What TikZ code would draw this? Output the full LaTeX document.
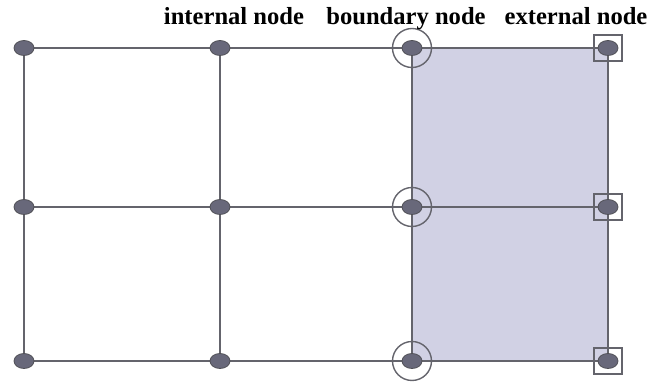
\documentclass[tikz,border=0pt]{standalone}
\usepackage{fontspec}
\setmainfont{Liberation Serif}
\usetikzlibrary{shapes.geometric,backgrounds}
\definecolor{gridline}{RGB}{100,100,108}
\definecolor{dotfill}{RGB}{104,104,122}
\definecolor{cellfill}{RGB}{209,209,228}
\tikzset{
  dot/.style={ellipse, minimum width=10pt, minimum height=7.5pt, inner sep=0pt, fill=dotfill, draw=gridline!80!black, line width=0.4pt},
  ring/.style={circle, minimum size=19.5pt, inner sep=0pt, draw=gridline, line width=0.7pt},
  sqbox/.style={rectangle, minimum width=14pt, minimum height=13pt, inner sep=0pt, draw=gridline, line width=0.7pt},
  edge/.style={draw=gridline, line width=1pt},
  lbl/.style={anchor=base, font=\fontsize{12.3}{14}\selectfont\bfseries, inner sep=0pt}
}
\begin{document}
\begin{tikzpicture}[x=0.5pt,y=-0.5pt]
\useasboundingbox (0,0) rectangle (654,383);
\node[dot] (n00) at (24,48){};
\node[dot] (n01) at (220,48){};
\node[dot] (n02) at (412,48){};
\node[dot] (n03) at (608,48){};
\node[dot] (n10) at (24,207){};
\node[dot] (n11) at (220,207){};
\node[dot] (n12) at (412,207){};
\node[dot] (n13) at (608,207){};
\node[dot] (n20) at (24,361){};
\node[dot] (n21) at (220,361){};
\node[dot] (n22) at (412,361){};
\node[dot] (n23) at (608,361){};
\begin{scope}[on background layer]
\fill[cellfill] (n02.center) rectangle (n23.center);
\draw[edge](n00) -- (n01);
\draw[edge](n01) -- (n02);
\draw[edge](n02) -- (n03);
\draw[edge](n10) -- (n11);
\draw[edge](n11) -- (n12);
\draw[edge](n12) -- (n13);
\draw[edge](n20) -- (n21);
\draw[edge](n21) -- (n22);
\draw[edge](n22) -- (n23);
\draw[edge](n00) -- (n10);
\draw[edge](n10) -- (n20);
\draw[edge](n01) -- (n11);
\draw[edge](n11) -- (n21);
\draw[edge](n02) -- (n12);
\draw[edge](n12) -- (n22);
\draw[edge](n03) -- (n13);
\draw[edge](n13) -- (n23);
\end{scope}
\node[ring] (b0) at (n02){};
\node[ring] (b1) at (n12){};
\node[ring] (b2) at (n22){};
\node[sqbox] (e0) at (n03){};
\node[sqbox] (e1) at (n13){};
\node[sqbox] (e2) at (n23){};
\node[lbl] (tint) at (234,25){internal node};
\node[lbl] (tbnd) at (406,25){boundary node};
\node[lbl] (text) at (576,25){external node};
\end{tikzpicture}
\end{document}
